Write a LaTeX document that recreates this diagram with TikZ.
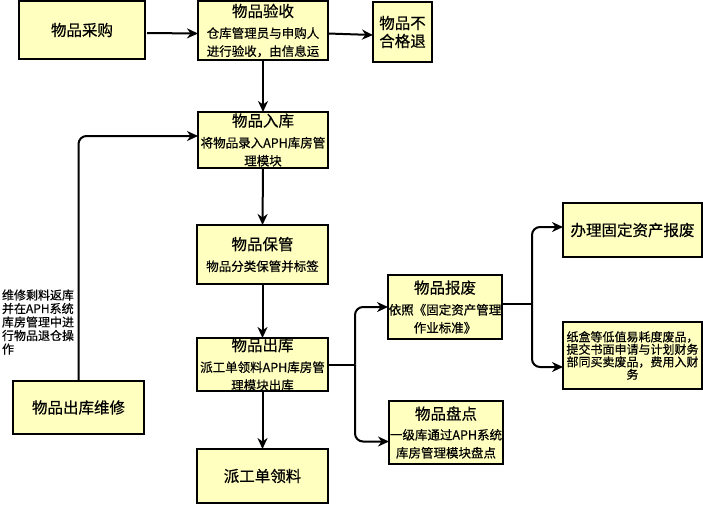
\documentclass[tikz,border=0pt]{standalone}
\usepackage{fontspec}
\setmainfont{Noto Sans CJK SC}[FakeBold=0.5]
\usetikzlibrary{arrows.meta}
\definecolor{boxfill}{RGB}{255,255,192}
\newcommand{\ttl}{\fontsize{15.5}{18}\selectfont}
\newcommand{\sub}{\fontsize{12.5}{18}\selectfont}
\begin{document}
\begin{tikzpicture}[x=1pt,y=-1pt,inner sep=0pt,outer sep=0pt,line width=2pt,
>={Stealth[length=11pt,width=10pt,inset=3.5pt]},
procblock/.style={draw,rectangle,fill=boxfill,line width=1.2pt,align=center,font=\sub},
bigblock/.style={procblock,font=\ttl}]
\useasboundingbox (0,0) rectangle (703,504);
% top row
\draw (82,30) node[bigblock,minimum width=126pt,minimum height=58pt] (buy) {物品采购};
\draw (263,30.5) node[procblock,minimum width=130pt,minimum height=59pt] (check) {{\ttl 物品验收}\\[3pt]仓库管理员与申购人\\进行验收，由信息运};
\draw (402.5,32) node[bigblock,minimum width=59pt,minimum height=60pt] (reject) {物品不\\合格退};
% main column
\draw (263,140) node[procblock,minimum width=130pt,minimum height=56pt] (instock) {{\ttl 物品入库}\\[3pt]将物品录入APH库房管\\理模块};
\draw (262.5,254.5) node[procblock,minimum width=131pt,minimum height=59pt] (keep) {{\ttl 物品保管}\\[3pt]物品分类保管并标签};
\draw (262.5,364.5) node[procblock,minimum width=131pt,minimum height=53pt] (outstock) {{\ttl 物品出库}\\[3pt]派工单领料APH库房管\\理模块出库};
\draw (262.5,476) node[bigblock,minimum width=131pt,minimum height=54pt] (pick) {派工单领料};
% right side
\draw (445,307) node[procblock,minimum width=114pt,minimum height=64pt] (scrap) {{\ttl 物品报废}\\[3pt]依照《固定资产管理\\作业标准》};
\draw (446,432.5) node[procblock,minimum width=114pt,minimum height=63pt] (count) {{\ttl 物品盘点}\\[2pt]一级库通过APH系统\\库房管理模块盘点};
\draw (632.5,230) node[bigblock,minimum width=139pt,minimum height=54pt] (asset) {办理固定资产报废};
\draw (632.5,355.5) node[procblock,minimum width=139pt,minimum height=67pt,font=\fontsize{12}{12.5}\selectfont] (waste) {纸盒等低值易耗度废品，\\提交书面申请与计划财务\\部同买卖废品，费用入财\\务};
% repair loop
\draw (78.5,407.5) node[bigblock,minimum width=131pt,minimum height=53pt] (repair) {物品出库维修};
\draw (2,322) node[anchor=west,align=left,font=\fontsize{12}{13.5}\selectfont] (note) {维修剩料返库\\并在APH系统\\库房管理中进\\行物品退仓操\\作};
% connectors
\draw[->] ([yshift=-3pt]buy.east) ++(2,0) -- ([yshift=-3pt]check.west);
\draw[->] ([yshift=-3pt]check.east) -- ([yshift=-3pt]reject.west);
\draw[->] (check.south) -- (instock.north);
\draw[->] (instock.south) -- (keep.north);
\draw[->] (keep.south) -- (outstock.north);
\draw[->] (outstock.south) -- (pick.north);
\draw[->,rounded corners=8pt] (repair.north) |- ([yshift=4pt]instock.west);
\coordinate (fork) at ([xshift=27pt]outstock.east);
\draw (outstock.east) -- (fork);
\draw[->,rounded corners=8pt] (fork) |- (scrap.west);
\draw[->,rounded corners=8pt] (fork) |- ([yshift=-9pt]count.west);
\coordinate (fork2) at ([xshift=30pt,yshift=3pt]scrap.east);
\draw ([yshift=3pt]scrap.east) -- (fork2);
\draw[->,rounded corners=8pt] (fork2) |- ([yshift=3pt]asset.west);
\draw[->,rounded corners=8pt] (fork2) |- ([yshift=-11.5pt]waste.west);
\end{tikzpicture}
\end{document}
